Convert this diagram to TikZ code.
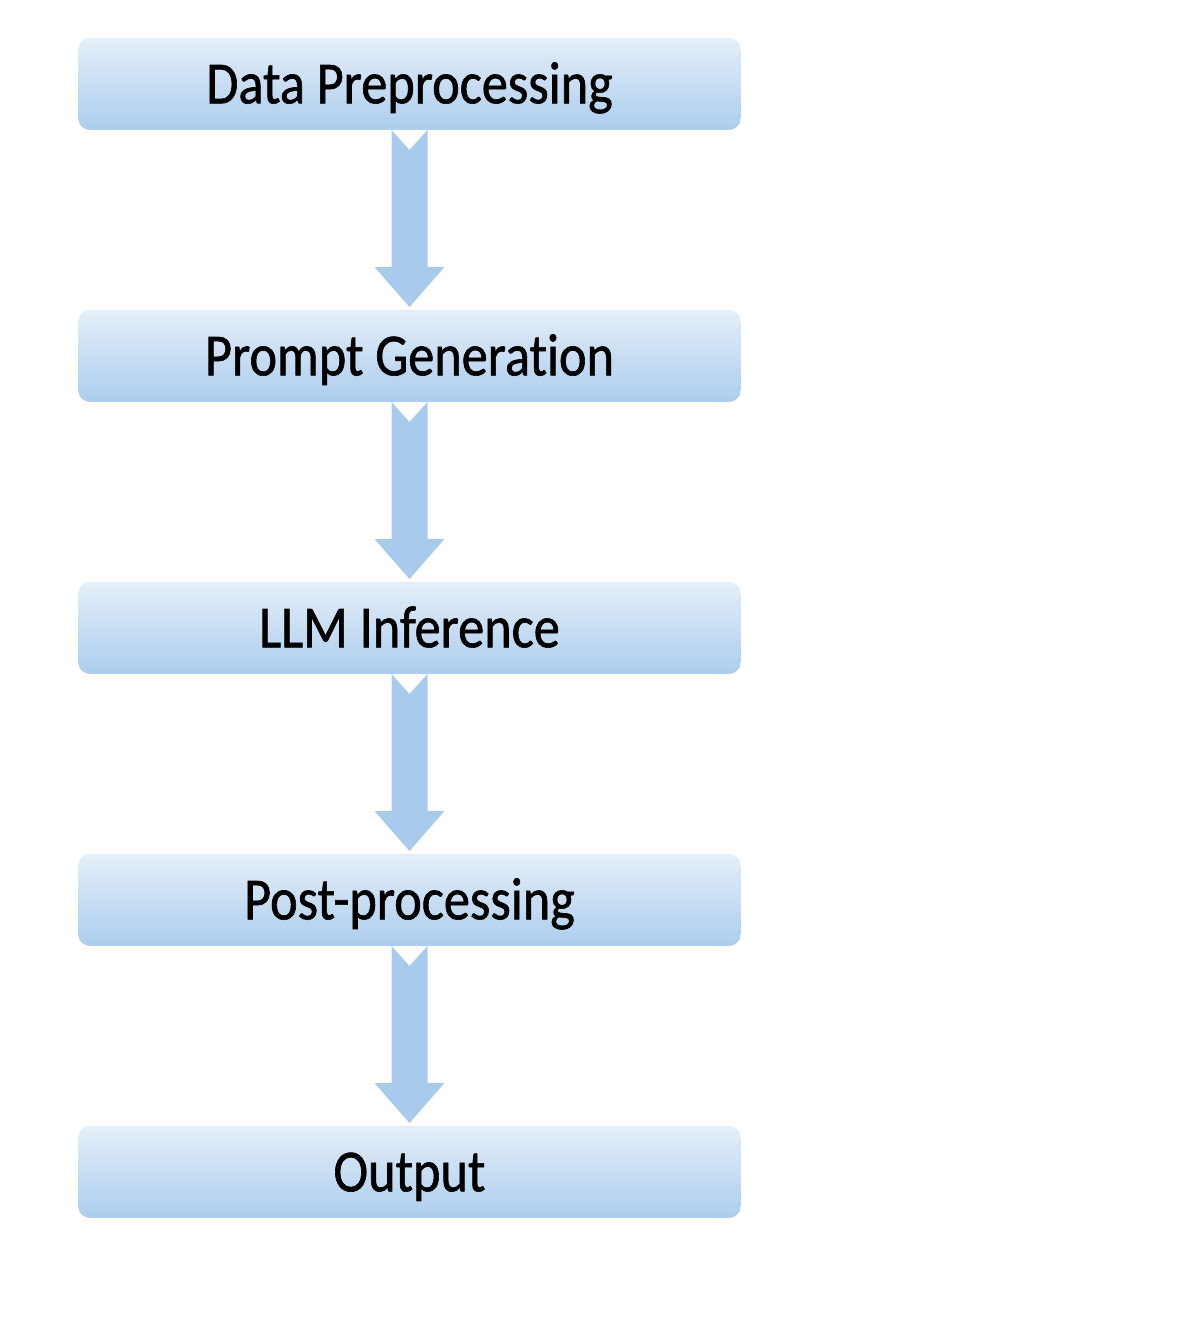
\documentclass[tikz,border=0pt]{standalone}
\usepackage{fontspec}
\setmainfont{Carlito}[FakeStretch=0.875,FakeBold=1,Ligatures=NoCommon]
\usetikzlibrary{calc}

\tikzset{
    stage/.style={minimum width=13.26cm, minimum height=1.84cm, rounded corners=0.24cm,
        top color={rgb,255:red,228;green,238;blue,249}, bottom color={rgb,255:red,172;green,205;blue,237},
        outer sep=0pt, inner sep=0pt, text height=22pt, text depth=0pt,
        font=\fontsize{34}{40}\selectfont},
    flow/.style={fill={rgb,255:red,168;green,202;blue,236}}
}

\begin{document}
\begin{tikzpicture}[x=0.02cm,y=-0.02cm]
    \useasboundingbox (0,0) rectangle (1196,1323);

    \node[stage] (prep) at (409.5,84) {Data Preprocessing};
    \node[stage] (prompt) at (409.5,356) {Prompt Generation};
    \node[stage] (infer) at (409.5,628) {LLM Inference};
    \node[stage] (post) at (409.5,900) {Post-processing};
    \node[stage] (out) at (409.5,1172) {Output};

    \foreach \p/\q in {prep/prompt, prompt/infer, infer/post, post/out}
        \fill[flow] ($(\p.south)+(-18,0)$) -- ($(\p.south)+(0,20)$) -- ($(\p.south)+(18,0)$)
            -- ($(\q.north)+(18,-43)$) -- ($(\q.north)+(35,-43)$) -- ($(\q.north)+(0,-3)$)
            -- ($(\q.north)+(-35,-43)$) -- ($(\q.north)+(-18,-43)$) -- cycle;
\end{tikzpicture}
\end{document}
